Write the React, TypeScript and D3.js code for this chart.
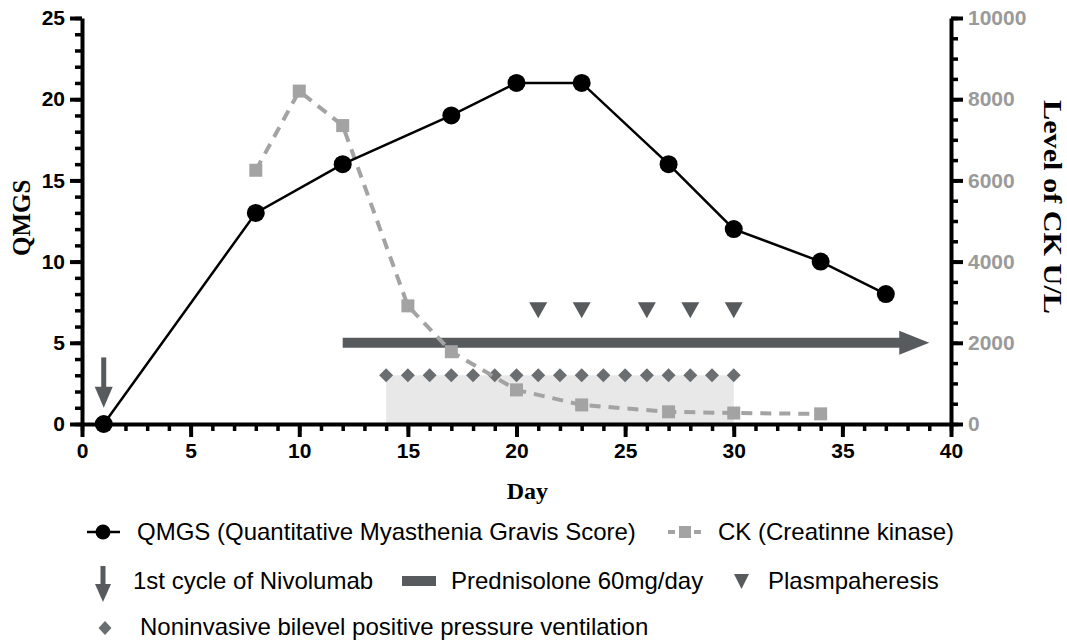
import React, { useEffect, useRef } from 'react'
import * as d3 from 'd3'

// QMGS score by day
const qmgsDays = [1, 8, 12, 17, 20, 23, 27, 30, 34, 37]
const qmgsValues = [0, 13, 16, 19, 21, 21, 16, 12, 10, 8]

// CK level (U/L) by day
const ckDays = [8, 10, 12, 15, 17, 20, 23, 27, 30, 34]
const ckValues = [6250, 8200, 7350, 2910, 1780, 840, 470, 300, 270, 250]

// treatment events
const nivolumabDay = 1
const prednisoloneStart = 12
const prednisoloneEnd = 39
const plasmaDays = [21, 23, 26, 28, 30]
const nippvDays = [14, 15, 16, 17, 18, 19, 20, 21, 22, 23, 24, 25, 26, 27, 28, 29, 30]

const xTicks = [0, 5, 10, 15, 20, 25, 30, 35, 40]
const yTicks = [0, 5, 10, 15, 20, 25]
const ckTicks = [0, 2000, 4000, 6000, 8000, 10000]

const DARK = '#575b5e'
const GREY = '#a3a3a3'
const SANS = 'Liberation Sans, Arial, sans-serif'
const SERIF = 'Liberation Serif, Times New Roman, serif'

function App() {
  const ref = useRef(null)

  useEffect(() => {
    const svg = d3.select(ref.current)
    svg.selectAll('*').remove()

    const margin = { top: 18, right: 116, bottom: 217, left: 82 }
    const width = 1067 - margin.left - margin.right
    const height = 641 - margin.top - margin.bottom

    const x = d3.scaleLinear().domain([0, 40]).range([0, width])
    const y = d3.scaleLinear().domain([0, 25]).range([height, 0])
    const yCk = d3.scaleLinear().domain([0, 10000]).range([height, 0])

    const g = svg.append('g').attr('transform', `translate(${margin.left},${margin.top})`)

    // NIPPV shaded region
    g.append('rect')
      .attr('x', x(nippvDays[0]))
      .attr('y', y(3))
      .attr('width', x(nippvDays[nippvDays.length - 1]) - x(nippvDays[0]))
      .attr('height', y(0) - y(3))
      .attr('fill', '#e8e8e8')

    // Prednisolone arrow
    g.append('line')
      .attr('x1', x(prednisoloneStart))
      .attr('x2', x(prednisoloneEnd) - 28)
      .attr('y1', y(5))
      .attr('y2', y(5))
      .attr('stroke', DARK)
      .attr('stroke-width', 10)
    g.append('path')
      .attr('d', `M${x(prednisoloneEnd)},${y(5)} l-30,-12 l0,24 z`)
      .attr('fill', DARK)

    // Nivolumab arrow
    g.append('line')
      .attr('x1', x(nivolumabDay))
      .attr('x2', x(nivolumabDay))
      .attr('y1', y(4.1))
      .attr('y2', y(2))
      .attr('stroke', DARK)
      .attr('stroke-width', 5)
    g.append('path')
      .attr('d', `M${x(nivolumabDay)},${y(1)} l-9,-21 l18,0 z`)
      .attr('fill', DARK)

    // Plasmapheresis triangles
    g.selectAll('.tri')
      .data(plasmaDays)
      .enter()
      .append('path')
      .attr('d', d => `M${x(d) - 9},${y(7) - 8} l18,0 l-9,16 z`)
      .attr('fill', DARK)

    // NIPPV diamonds
    g.selectAll('.dia')
      .data(nippvDays)
      .enter()
      .append('path')
      .attr('d', d => `M${x(d)},${y(3) - 7} l7,7 l-7,7 l-7,-7 z`)
      .attr('fill', '#6b6e70')

    // CK dashed line
    const ckData = ckDays.map((d, i) => [d, ckValues[i]])
    g.append('path')
      .datum(ckData)
      .attr('d', d3.line().x(d => x(d[0])).y(d => yCk(d[1])))
      .attr('fill', 'none')
      .attr('stroke', GREY)
      .attr('stroke-width', 4)
      .attr('stroke-dasharray', '11,8')
    g.selectAll('.sq')
      .data(ckData)
      .enter()
      .append('rect')
      .attr('x', d => x(d[0]) - 6.5)
      .attr('y', d => yCk(d[1]) - 6.5)
      .attr('width', 13)
      .attr('height', 13)
      .attr('fill', GREY)

    // QMGS line
    const qData = qmgsDays.map((d, i) => [d, qmgsValues[i]])
    g.append('path')
      .datum(qData)
      .attr('d', d3.line().x(d => x(d[0])).y(d => y(d[1])))
      .attr('fill', 'none')
      .attr('stroke', '#000')
      .attr('stroke-width', 2.5)
    g.selectAll('.dot')
      .data(qData)
      .enter()
      .append('circle')
      .attr('cx', d => x(d[0]))
      .attr('cy', d => y(d[1]))
      .attr('r', 9)
      .attr('fill', '#000')

    // axes
    const styleAxis = (sel, color) => {
      sel.select('.domain').attr('stroke', '#000').attr('stroke-width', 4)
      sel.selectAll('.tick line').attr('stroke', '#000').attr('stroke-width', 4)
      sel.selectAll('text')
        .attr('font-family', SANS)
        .attr('font-weight', 'bold')
        .attr('font-size', 21)
        .attr('fill', color)
    }
    const styleMinor = sel => {
      sel.select('.domain').remove()
      sel.selectAll('.tick line').attr('stroke', '#000').attr('stroke-width', 3.5)
    }

    // minor ticks
    g.append('g').attr('transform', `translate(0,${height})`)
      .call(d3.axisBottom(x).tickValues(d3.range(0, 41, 1)).tickSize(7).tickFormat(''))
      .call(styleMinor)
    g.append('g')
      .call(d3.axisLeft(y).tickValues(d3.range(0, 26, 1)).tickSize(7).tickFormat(''))
      .call(styleMinor)
    g.append('g').attr('transform', `translate(${width},0)`)
      .call(d3.axisRight(yCk).tickValues(d3.range(0, 10001, 500)).tickSize(7).tickFormat(''))
      .call(styleMinor)

    // major ticks and labels
    g.append('g')
      .attr('transform', `translate(0,${height})`)
      .call(d3.axisBottom(x).tickValues(xTicks).tickSize(13).tickSizeOuter(0).tickPadding(6))
      .call(s => styleAxis(s, '#000'))

    g.append('g')
      .call(d3.axisLeft(y).tickValues(yTicks).tickSize(12).tickSizeOuter(0).tickPadding(5))
      .call(s => styleAxis(s, '#000'))

    g.append('g')
      .attr('transform', `translate(${width},0)`)
      .call(d3.axisRight(yCk).tickValues(ckTicks).tickFormat(d3.format('d'))
        .tickSize(12).tickSizeOuter(0).tickPadding(5))
      .call(s => styleAxis(s, '#9a9a9a'))

    // axis titles
    svg.append('text')
      .attr('x', margin.left + x(20.5))
      .attr('y', 499)
      .attr('text-anchor', 'middle')
      .attr('font-family', SERIF)
      .attr('font-weight', 'bold')
      .attr('font-size', 24)
      .text('Day')

    svg.append('text')
      .attr('transform', `translate(30,${margin.top + y(12.7)}) rotate(-90)`)
      .attr('text-anchor', 'middle')
      .attr('font-family', SERIF)
      .attr('font-weight', 'bold')
      .attr('font-size', 25)
      .text('QMGS')

    svg.append('text')
      .attr('transform', `translate(1044,207) rotate(90)`)
      .attr('text-anchor', 'middle')
      .attr('font-family', SERIF)
      .attr('font-weight', 'bold')
      .attr('font-size', 26)
      .attr('textLength', 214)
      .attr('lengthAdjust', 'spacingAndGlyphs')
      .text('Level of CK U/L')

    // legend
    const lg = svg.append('g')
      .attr('font-family', SANS)
      .attr('font-size', 24)
      .attr('fill', '#000')

    // row 1
    lg.append('line').attr('x1', 87).attr('x2', 120).attr('y1', 532).attr('y2', 532)
      .attr('stroke', '#000').attr('stroke-width', 2.5)
    lg.append('circle').attr('cx', 103).attr('cy', 532).attr('r', 7.5).attr('fill', '#000')
    lg.append('text').attr('x', 137).attr('y', 540).text('QMGS (Quantitative Myasthenia Gravis Score)')

    lg.append('line').attr('x1', 668).attr('x2', 702).attr('y1', 532).attr('y2', 532)
      .attr('stroke', GREY).attr('stroke-width', 4).attr('stroke-dasharray', '7,6')
    lg.append('rect').attr('x', 679).attr('y', 526).attr('width', 12).attr('height', 12).attr('fill', GREY)
    lg.append('text').attr('x', 718).attr('y', 540).text('CK (Creatinne kinase)')

    // row 2
    lg.append('line').attr('x1', 103).attr('x2', 103).attr('y1', 566).attr('y2', 586)
      .attr('stroke', DARK).attr('stroke-width', 5)
    lg.append('path').attr('d', 'M103,602 l-8,-18 l16,0 z').attr('fill', DARK)
    lg.append('text').attr('x', 133).attr('y', 589).text('1st cycle of Nivolumab')

    lg.append('rect').attr('x', 402).attr('y', 576).attr('width', 34).attr('height', 10).attr('fill', DARK)
    lg.append('text').attr('x', 451).attr('y', 589).text('Prednisolone 60mg/day')

    lg.append('path').attr('d', 'M734,574 l15,0 l-7.5,15 z').attr('fill', DARK)
    lg.append('text').attr('x', 768).attr('y', 589).text('Plasmpaheresis')

    // row 3
    lg.append('path').attr('d', 'M105,621 l6.5,7 l-6.5,7 l-6.5,-7 z').attr('fill', '#6b6e70')
    lg.append('text').attr('x', 140).attr('y', 635).text('Noninvasive bilevel positive pressure ventilation')
  }, [])

  return (
    <svg ref={ref} width={1067} height={641}
      style={{ position: 'absolute', left: 0, top: 0, background: '#fff' }} />
  )
}

export default App
